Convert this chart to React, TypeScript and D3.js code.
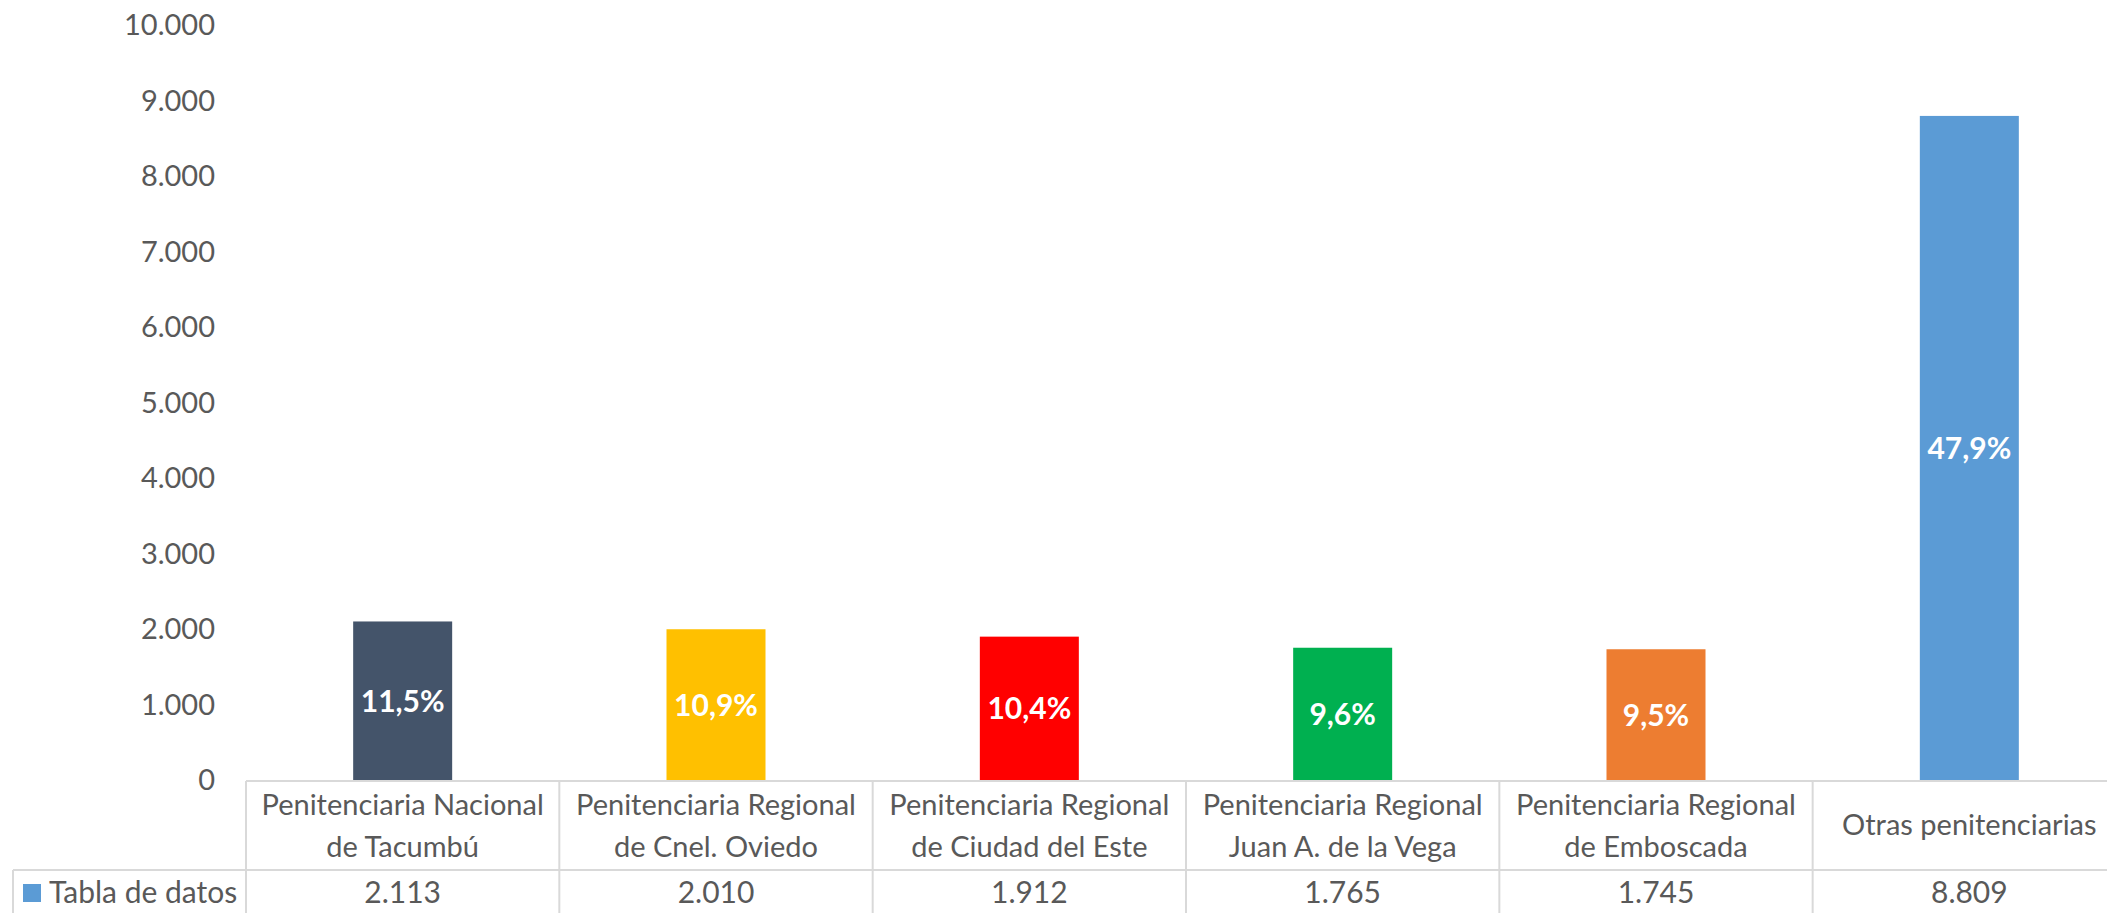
import React from 'react';
import * as d3 from 'd3';

const categories: string[][] = [
  ['Penitenciaria Nacional', 'de Tacumbú'],
  ['Penitenciaria Regional', 'de Cnel. Oviedo'],
  ['Penitenciaria Regional', 'de Ciudad del Este'],
  ['Penitenciaria Regional', 'Juan A. de la Vega'],
  ['Penitenciaria Regional', 'de Emboscada'],
  ['Otras penitenciarias'],
];
const values = [2113, 2010, 1912, 1765, 1745, 8809];
const percentLabels = ['11,5%', '10,9%', '10,4%', '9,6%', '9,5%', '47,9%'];
const barColors = ['#44546A', '#FFC000', '#FF0000', '#00B050', '#ED7D31', '#5B9BD5'];
const yTicks = [0, 1000, 2000, 3000, 4000, 5000, 6000, 7000, 8000, 9000, 10000];
const seriesName = 'Tabla de datos';
const seriesColor = '#5B9BD5';

const W = 2107;
const H = 913;
const FONT = 'Lato, "Open Sans", sans-serif';
const TEXT = '#595959';
const GRID = '#D9D9D9';

const locale = d3.formatLocale({ decimal: ',', thousands: '.', grouping: [3], currency: ['', ''] });
const fmt = locale.format(',d');

export default function App() {
  const x = d3
    .scaleBand<number>()
    .domain(values.map((_, i) => i))
    .range([246, 2126])
    .padding(0);
  const y = d3.scaleLinear().domain([0, 10000]).range([781, 26]);
  const barW = 99;
  const row1Top = y(0);
  const row2Top = 870;
  const tableLeft = 13;
  const cw = x.bandwidth();

  return (
    <svg
      width={W}
      height={H}
      style={{ position: 'absolute', left: 0, top: 0, background: '#fff' }}
      fontFamily={FONT}
    >
      {yTicks.map((t) => (
        <text key={t} x={215} y={y(t) - 1} dy="0.35em" textAnchor="end" fontSize={29} fill={TEXT}>
          {fmt(t)}
        </text>
      ))}
      {values.map((v, i) => {
        const cx = (x(i) as number) + cw / 2;
        return (
          <g key={i}>
            <rect x={cx - barW / 2} y={y(v)} width={barW} height={y(0) - y(v)} fill={barColors[i]} />
            <text
              x={cx}
              y={(y(v) + y(0)) / 2}
              dy="0.35em"
              textAnchor="middle"
              fontSize={30}
              fontWeight="bold"
              fill="#fff"
            >
              {percentLabels[i]}
            </text>
          </g>
        );
      })}
      <line x1={x(0) as number} x2={W} y1={row1Top} y2={row1Top} stroke={GRID} strokeWidth={2} />
      <line x1={tableLeft} x2={W} y1={row2Top} y2={row2Top} stroke={GRID} strokeWidth={2} />
      <line x1={tableLeft} x2={tableLeft} y1={row2Top} y2={H} stroke={GRID} strokeWidth={2} />
      {values.map((_, i) => (
        <line
          key={'v' + i}
          x1={x(i) as number}
          x2={x(i) as number}
          y1={row1Top}
          y2={H}
          stroke={GRID}
          strokeWidth={2}
        />
      ))}
      {categories.map((lines, i) => {
        const cx = (x(i) as number) + cw / 2;
        if (lines.length === 1) {
          return (
            <text key={'c' + i} x={cx} y={825} dy="0.35em" textAnchor="middle" fontSize={29} fill={TEXT}>
              {lines[0]}
            </text>
          );
        }
        return (
          <text key={'c' + i} textAnchor="middle" fontSize={29} fill={TEXT}>
            <tspan x={cx} y={805} dy="0.35em">{lines[0]}</tspan>
            <tspan x={cx} y={847} dy="0.35em">{lines[1]}</tspan>
          </text>
        );
      })}
      {values.map((v, i) => (
        <text
          key={'d' + i}
          x={(x(i) as number) + cw / 2}
          y={892}
          dy="0.35em"
          textAnchor="middle"
          fontSize={30}
          fill={TEXT}
        >
          {fmt(v)}
        </text>
      ))}
      <rect x={23} y={884} width={18} height={18} fill={seriesColor} />
      <text x={49} y={892} dy="0.35em" fontSize={30} fill={TEXT}>
        {seriesName}
      </text>
    </svg>
  );
}
